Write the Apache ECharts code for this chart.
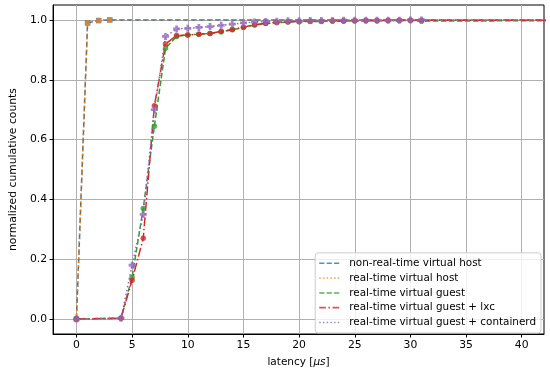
<!DOCTYPE html>
<html><head><meta charset="utf-8">
<script src="https://cdn.jsdelivr.net/npm/echarts@6/dist/echarts.min.js"></script>
<style>html,body{margin:0;padding:0;background:#fff}#c{width:550px;height:373px}</style>
</head><body><div id="c"></div>
<script>
const seriesNames = ["non-real-time virtual host","real-time virtual host","real-time virtual guest","real-time virtual guest + lxc","real-time virtual guest + containerd"];
const hostX = [0,1,2,3,60];
const nonRtHost = [0,0.99,0.998,1.0,1.0];
const rtHost = [0,0.99,0.998,1.0,1.0];
const guestX = [0,4,5,6,7,8,9,10,11,12,13,14,15,16,17,18,19,20,21,22,23,24,25,26,27,28,29,30,31,60];
const rtGuest = [0,0.003,0.14,0.37,0.645,0.905,0.945,0.95,0.952,0.955,0.96,0.967,0.975,0.983,0.988,0.991,0.993,0.994,0.995,0.995,0.996,0.996,0.997,0.997,0.997,0.998,0.998,0.998,0.996,1.0];
const rtGuestLxc = [0,0.003,0.13,0.27,0.713,0.92,0.948,0.95,0.952,0.955,0.962,0.968,0.976,0.984,0.989,0.992,0.994,0.995,0.996,0.996,0.997,0.997,0.997,0.998,0.998,0.998,0.999,0.999,0.999,1.0];
const rtGuestCtd = [0,0.003,0.18,0.35,0.70,0.945,0.97,0.972,0.975,0.978,0.982,0.986,0.99,0.993,0.995,0.996,0.997,0.997,0.998,0.998,0.998,0.999,0.999,0.999,0.999,0.999,0.999,1.0,1.0,1.0];
const xTicks = [0,5,10,15,20,25,30,35,40];
const yTicks = [0,0.2,0.4,0.6,0.8,1.0];

const colors = ['#1f77b4','#ff7f0e','#2ca02c','#d62728','#9467bd'];
const plusPath = 'path://M3,0H7V3H10V7H7V10H3V7H0V3H3Z';
const dashes = {
  dashed: 'path://M0,0h7v2h-7z M10,0h7v2h-7z M20,0h7v2h-7z',
  dotted: 'path://M0,0h2v2h-2z M5,0h2v2h-2z M10,0h2v2h-2z M15,0h2v2h-2z M20,0h2v2h-2z M25,0h2v2h-2z',
  dashdot: 'path://M0,0h8v2h-8z M11,0h2v2h-2z M16,0h8v2h-8z'
};
function pts(xs, ys, lastNone) {
  return xs.map((x, i) => (lastNone && i === xs.length - 1) ? {value: [x, ys[i]], symbol: 'none'} : [x, ys[i]]);
}
function mk(name, xs, ys, color, symbol, dash) {
  return {
    name, type: 'line', data: pts(xs, ys, true), symbol, symbolSize: symbol === plusPath ? 7 : 5.5,
    showSymbol: true, clip: true,
    lineStyle: {color, width: 1.5, type: dash},
    itemStyle: {color, opacity: 0.8},
    animation: false
  };
}
const series = [
  mk(seriesNames[0], hostX, nonRtHost, colors[0], 'rect', [5.5, 2.5]),
  mk(seriesNames[1], hostX, rtHost, colors[1], 'circle', [1.5, 2.5]),
  mk(seriesNames[2], guestX, rtGuest, colors[2], 'circle', [5.5, 2.5]),
  mk(seriesNames[3], guestX, rtGuestLxc, colors[3], 'circle', [9, 2.5, 1.5, 2.5]),
  mk(seriesNames[4], guestX, rtGuestCtd, colors[4], plusPath, [1.5, 2.5])
];
const legendIcons = [dashes.dashed, dashes.dotted, dashes.dashed, dashes.dashdot, dashes.dotted];
const chart = echarts.init(document.getElementById('c'), null, {renderer: 'canvas'});
const font = 'DejaVu Sans';
chart.setOption({
  color: colors,
  animation: false,
  grid: {left: 43, right: 6, top: 5, bottom: 36, show: true, borderColor: '#000', borderWidth: 1, backgroundColor: 'transparent'},
  legend: {
    orient: 'vertical', right: 9, bottom: 40,
    data: seriesNames.map((n, i) => ({name: n, icon: legendIcons[i], itemStyle: {color: colors[i]}})),
    itemWidth: 20, itemHeight: 2, itemGap: 1.8,
    textStyle: {fontFamily: font, fontSize: 10.4, color: '#000', lineHeight: 13, padding: [0, 0, 0, 5]},
    backgroundColor: 'rgba(255,255,255,0.8)', borderColor: '#ccc', borderWidth: 1, borderRadius: 3,
    padding: [4, 5, 4, 4]
  },
  xAxis: {
    type: 'value', min: -2.1, max: 42,
    name: 'latency [{i|μs}]', nameLocation: 'middle', nameGap: 23,
    nameTextStyle: {fontFamily: font, fontSize: 10.5, color: '#000', rich: {i: {fontStyle: 'italic', fontFamily: font, fontSize: 10.5}}},
    axisLine: {show: true, onZero: false, lineStyle: {color: '#000', width: 1}},
    axisTick: {show: true, customValues: xTicks, length: 3.5, inside: false, lineStyle: {color: '#000'}},
    axisLabel: {customValues: xTicks, fontFamily: font, fontSize: 10.8, color: '#000', margin: 6},
    splitLine: {show: true, lineStyle: {color: '#b0b0b0', width: 1}}
  },
  yAxis: {
    type: 'value', min: -0.05, max: 1.05,
    name: 'normalized cumulative counts', nameLocation: 'middle', nameGap: 33,
    nameTextStyle: {fontFamily: font, fontSize: 10.8, color: '#000'},
    axisLine: {show: true, onZero: false, lineStyle: {color: '#000', width: 1}},
    axisTick: {show: true, customValues: yTicks, length: 3.5, lineStyle: {color: '#000'}},
    axisLabel: {customValues: yTicks, fontFamily: font, fontSize: 10.8, color: '#000', margin: 6, formatter: v => v.toFixed(1)},
    splitLine: {show: true, lineStyle: {color: '#b0b0b0', width: 1}}
  },
  series
});
</script></body></html>
